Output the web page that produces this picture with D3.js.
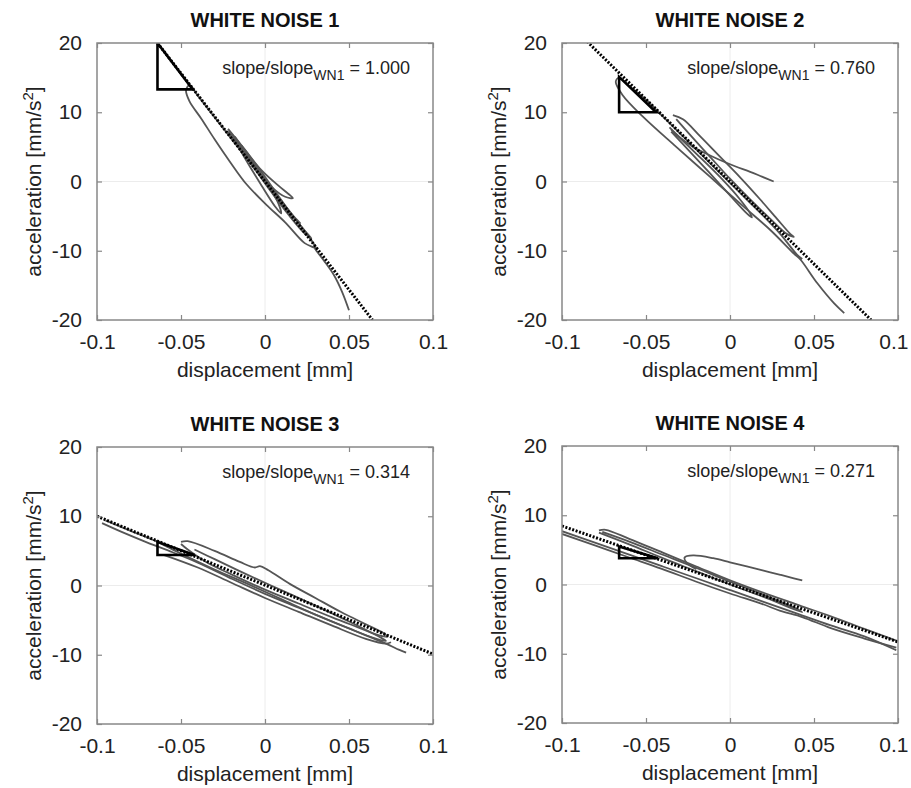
<!DOCTYPE html>
<html>
<head>
  <meta charset="utf-8">
  <title>white noise hysteresis</title>
  <script src="https://cdn.jsdelivr.net/npm/d3@7"></script>
  <style type="text/css">
    body { margin: 0; background: white; }
    svg text { font-family: "Liberation Sans", Arial, sans-serif; }
  </style>
</head>
<body>
<div id="chart"></div>
<script>
// panel titles and slope ratios
var titles = ['WHITE NOISE 1', 'WHITE NOISE 2', 'WHITE NOISE 3', 'WHITE NOISE 4'];
var ratios = ['1.000', '0.760', '0.314', '0.271'];

var xTicks = [-0.1, -0.05, 0, 0.05, 0.1];
var xTickLabels = ['-0.1', '-0.05', '0', '0.05', '0.1'];
var yTicks = [-20, -10, 0, 10, 20];
var yTickLabels = ['-20', '-10', '0', '10', '20'];

// dotted fit line end points [x, y]
var fitLines = [
  [[-0.064, 20], [0.064, -20]],
  [[-0.085, 20.2], [0.084, -20]],
  [[-0.1, 10], [0.1, -9.9]],
  [[-0.1, 8.45], [0.1, -8.3]]
];

// slope triangles
var triangles = [
  [[-0.064, 20], [-0.064, 13.3], [-0.043, 13.3]],
  [[-0.066, 15.1], [-0.066, 10], [-0.044, 10]],
  [[-0.064, 6.3], [-0.064, 4.4], [-0.042, 4.4]],
  [[-0.066, 5.5], [-0.066, 3.8], [-0.043, 3.8]]
];

// measured displacement / acceleration traces
var wn1 = [
  [[0.050, -18.6], [0.046, -16.0], [0.041, -13.5], [0.035, -11.4], [0.030, -9.8], [0.0296, -9.6],
   [0.0236, -8.9], [0.012, -5.9], [0.001, -3.4], [-0.011, -0.4], [-0.021, 2.9], [-0.030, 6.1],
   [-0.038, 9.1], [-0.045, 11.6], [-0.047, 13.2], [-0.045, 13.9], [-0.040, 12.4], [-0.032, 9.9],
   [-0.022, 6.8], [-0.012, 3.7], [-0.002, 0.6], [0.008, -2.4], [0.018, -5.4], [0.025, -7.6], [0.029, -9.0], [0.031, -9.9]],
  [[-0.022, 7.6], [-0.012, 4.6], [-0.002, 1.6], [0.008, -0.6], [0.014, -1.8], [0.0166, -2.4],
   [0.012, -2.2], [0.004, -0.8], [-0.006, 2.0], [-0.016, 5.2], [-0.022, 7.2]],
  [[-0.018, 6.5], [-0.008, 3.0], [0.002, -0.6], [0.008, -3.2], [0.0096, -4.6], [0.006, -3.6],
   [-0.002, -0.6], [-0.012, 3.4], [-0.018, 6.0]],
  [[-0.014, 5.2], [-0.004, 2.0], [0.006, -1.4], [0.016, -4.8], [0.024, -7.2], [0.0276, -8.2],
   [0.024, -7.6], [0.014, -4.8], [0.004, -1.6], [-0.006, 1.8], [-0.014, 4.6]],
  [[-0.020, 6.9], [-0.010, 3.6], [0.000, 0.3], [0.010, -2.9], [0.018, -5.3], [0.021, -6.0],
   [0.016, -5.0], [0.006, -2.0], [-0.004, 1.2], [-0.014, 4.4], [-0.020, 6.4]]
];

var wn2 = [
  [[0.068, -19.0], [0.062, -17.6], [0.052, -14.7], [0.042, -11.3], [0.038, -10.4], [0.024, -7.0],
   [0.008, -3.6], [-0.012, 0.7], [-0.032, 5.0], [-0.052, 9.4], [-0.064, 12.5], [-0.068, 14.4],
   [-0.066, 15.0], [-0.060, 13.8], [-0.050, 11.8], [-0.040, 9.4], [-0.030, 7.0], [-0.020, 4.6],
   [-0.010, 2.2], [0.000, -0.2], [0.010, -2.6], [0.020, -5.0], [0.030, -7.6], [0.040, -10.6], [0.043, -11.2]],
  [[-0.035, 7.5], [-0.020, 4.0], [-0.005, 0.4], [0.006, -2.6], [0.012, -4.6], [0.013, -5.2],
   [0.010, -4.6], [0.000, -2.0], [-0.012, 1.2], [-0.025, 4.6], [-0.035, 7.2]],
  [[-0.034, 9.6], [-0.028, 9.0], [-0.018, 6.6], [-0.006, 3.6], [0.006, 0.6], [0.018, -2.6],
   [0.028, -5.4], [0.036, -7.6], [0.038, -8.0], [0.034, -7.6], [0.024, -5.4], [0.012, -2.6],
   [0.000, 0.4], [-0.012, 3.6], [-0.024, 6.8], [-0.032, 9.0]],
  [[-0.036, 7.8], [-0.030, 6.4], [-0.022, 5.0], [-0.014, 4.0], [-0.006, 3.1], [0.003, 2.2],
   [0.012, 1.4], [0.019, 0.7], [0.026, 0.0]]
];

var wn3 = [
  [[-0.097, 9.0], [-0.085, 7.7], [-0.070, 6.2], [-0.055, 4.8], [-0.040, 3.3], [-0.020, 1.0],
   [0.000, -1.2], [0.020, -3.2], [0.040, -5.2], [0.060, -7.2], [0.072, -8.4], [0.080, -9.3], [0.084, -9.7]],
  [[-0.095, 9.4], [-0.080, 7.9], [-0.065, 6.4], [-0.050, 4.6], [-0.030, 2.3], [-0.010, 0.2],
   [0.010, -2.0], [0.030, -4.2], [0.050, -6.2], [0.065, -7.6], [0.072, -8.0], [0.068, -7.4],
   [0.050, -5.2], [0.030, -2.9], [0.010, -0.7], [-0.010, 1.5], [-0.030, 3.8], [-0.042, 5.2]],
  [[-0.050, 6.3], [-0.046, 6.4], [-0.030, 5.0], [-0.015, 3.4], [-0.006, 2.6], [-0.003, 2.8],
   [0.002, 2.2], [0.015, 0.2], [0.030, -1.8], [0.045, -3.8], [0.060, -5.6], [0.070, -6.8],
   [0.073, -7.4], [0.068, -7.2], [0.055, -6.0], [0.040, -4.6], [0.020, -2.6], [0.000, -0.6],
   [-0.020, 1.6], [-0.035, 3.4], [-0.046, 5.2], [-0.050, 6.0]],
  [[-0.060, 4.4], [-0.040, 2.6], [-0.020, 0.4], [0.000, -1.8], [0.020, -3.8], [0.040, -5.8],
   [0.060, -7.7], [0.072, -8.4], [0.075, -8.2]]
];

var wn4 = [
  [[-0.078, 7.8], [-0.074, 7.9], [-0.060, 6.6], [-0.040, 4.6], [-0.020, 2.6], [0.000, 0.6],
   [0.020, -1.2], [0.040, -2.9], [0.060, -4.6], [0.080, -6.4], [0.099, -8.1]],
  [[-0.100, 7.3], [-0.080, 5.6], [-0.060, 3.9], [-0.041, 2.3], [-0.020, 0.4], [0.000, -1.3],
   [0.019, -2.8], [0.030, -3.8], [0.043, -4.7], [0.060, -6.3], [0.080, -7.8], [0.099, -9.1]],
  [[-0.100, 7.7], [-0.080, 6.0], [-0.060, 4.3], [-0.040, 2.6], [-0.020, 0.9], [0.000, -0.8],
   [0.020, -2.5], [0.040, -4.2], [0.060, -5.9], [0.080, -7.5], [0.099, -9.5]],
  [[-0.078, 7.5], [-0.060, 5.8], [-0.040, 3.8], [-0.020, 1.9], [0.000, 0.0], [0.020, -1.8],
   [0.043, -4.0], [0.038, -3.3], [0.020, -1.5], [0.000, 0.4], [-0.020, 2.4], [-0.040, 4.3],
   [-0.060, 6.2], [-0.076, 7.6]],
  [[-0.020, 2.2], [-0.026, 3.2], [-0.027, 3.9], [-0.022, 4.2], [-0.010, 3.8], [0.000, 3.2],
   [0.010, 2.6], [0.020, 2.0], [0.030, 1.4], [0.038, 0.9], [0.043, 0.6]]
];

var traces = [wn1, wn2, wn3, wn4];

var W = 911, H = 788;
var pw = 336, ph = 277;
var origins = [[97, 43], [562, 43], [97, 447], [562, 446]];

var svg = d3.select('#chart').append('svg')
  .attr('width', W).attr('height', H);

origins.forEach(function (o, i) {
  var g = svg.append('g').attr('transform', 'translate(' + o[0] + ',' + o[1] + ')');
  var x = d3.scaleLinear().domain([-0.1, 0.1]).range([0, pw]);
  var y = d3.scaleLinear().domain([-20, 20]).range([ph, 0]);

  g.append('clipPath').attr('id', 'clip' + i)
    .append('rect').attr('width', pw).attr('height', ph);

  // faint zero lines
  g.append('line').attr('x1', x(0)).attr('x2', x(0)).attr('y1', 0).attr('y2', ph)
    .attr('stroke', '#ececec').attr('stroke-width', 1);
  g.append('line').attr('x1', 0).attr('x2', pw).attr('y1', y(0)).attr('y2', y(0))
    .attr('stroke', '#ececec').attr('stroke-width', 1);

  var line = d3.line().x(function (d) { return x(d[0]); }).y(function (d) { return y(d[1]); });
  var smooth = d3.line().curve(d3.curveCatmullRom.alpha(0.5))
    .x(function (d) { return x(d[0]); }).y(function (d) { return y(d[1]); });

  var plot = g.append('g').attr('clip-path', 'url(#clip' + i + ')');

  plot.selectAll('path.trace').data(traces[i]).enter().append('path')
    .attr('class', 'trace')
    .attr('d', smooth)
    .attr('fill', 'none')
    .attr('stroke', '#555')
    .attr('stroke-width', 1.8);

  plot.append('path').datum(fitLines[i])
    .attr('d', line)
    .attr('fill', 'none')
    .attr('stroke', '#000')
    .attr('stroke-width', 3)
    .attr('stroke-dasharray', '2,1.6');

  plot.append('path').datum(triangles[i])
    .attr('d', function (d) { return line(d) + 'Z'; })
    .attr('fill', 'none')
    .attr('stroke', '#000')
    .attr('stroke-width', 2.6);

  // axes: ticks on all four sides, pointing inwards
  var axisStyle = function (sel) {
    sel.select('.domain').remove();
    sel.selectAll('line').attr('stroke', '#888').attr('stroke-width', 1.2);
    sel.selectAll('text').attr('fill', '#222').style('font-size', '21px');
  };
  var xAxis = g.append('g').attr('transform', 'translate(0,' + ph + ')')
    .call(d3.axisBottom(x).tickValues(xTicks).tickSize(-5).tickPadding(14)
      .tickFormat(function (d, k) { return xTickLabels[k]; }))
    .call(axisStyle);
  // right-hand panels: keep the last label inside the window
  if (i % 2 === 1) {
    xAxis.selectAll('.tick text').filter(function (d) { return d === 0.1; })
      .attr('text-anchor', 'end').attr('x', 10);
  }
  g.append('g')
    .call(d3.axisLeft(y).tickValues(yTicks).tickSize(-5).tickPadding(15)
      .tickFormat(function (d, k) { return yTickLabels[k]; }))
    .call(axisStyle);
  g.append('g')
    .call(d3.axisTop(x).tickValues(xTicks).tickSize(-5).tickFormat(''))
    .call(axisStyle);
  g.append('g').attr('transform', 'translate(' + pw + ',0)')
    .call(d3.axisRight(y).tickValues(yTicks).tickSize(-5).tickFormat(''))
    .call(axisStyle);

  g.append('rect').attr('width', pw).attr('height', ph)
    .attr('fill', 'none').attr('stroke', '#888').attr('stroke-width', 1.5);

  g.append('text')
    .attr('x', pw / 2).attr('y', -16)
    .attr('text-anchor', 'middle')
    .style('font-size', '20px').style('font-weight', 'bold')
    .attr('fill', '#111')
    .text(titles[i]);

  g.append('text')
    .attr('x', pw / 2).attr('y', ph + 57)
    .attr('text-anchor', 'middle')
    .style('font-size', '21px').attr('fill', '#222')
    .text('displacement [mm]');

  var yl = g.append('text')
    .attr('transform', 'translate(-56,' + (ph / 2) + ') rotate(-90)')
    .attr('text-anchor', 'middle')
    .style('font-size', '21px').attr('fill', '#222');
  yl.append('tspan').text('acceleration [mm/s');
  yl.append('tspan').attr('dy', -8).style('font-size', '15px').text('2');
  yl.append('tspan').attr('dy', 8).text(']');

  var ann = g.append('text')
    .attr('x', 313).attr('y', 31)
    .attr('text-anchor', 'end')
    .style('font-size', '18px').attr('fill', '#222');
  ann.append('tspan').text('slope/slope');
  ann.append('tspan').attr('dy', 6).style('font-size', '14px').text('WN1');
  ann.append('tspan').attr('dy', -6).text(' = ' + ratios[i]);
});
</script>
</body>
</html>
